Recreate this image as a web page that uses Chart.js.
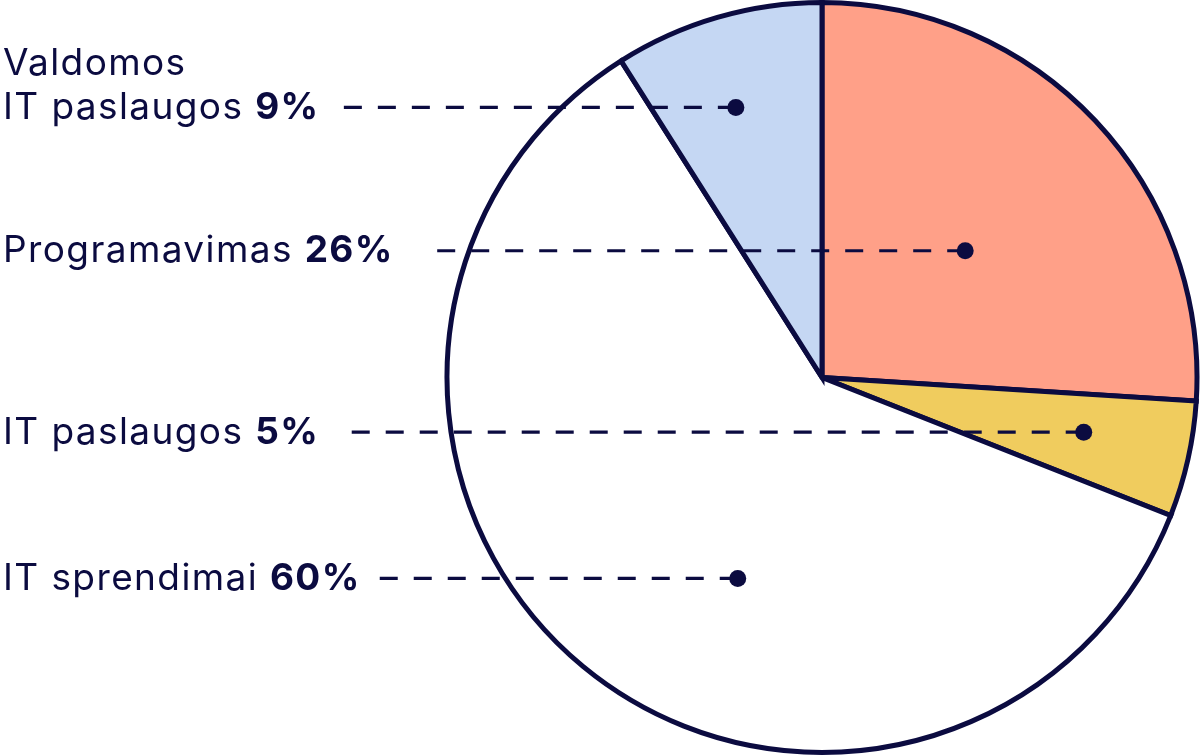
<!DOCTYPE html>
<html>
<head>
<meta charset="utf-8">
<script src="https://cdn.jsdelivr.net/npm/chart.js@4"></script>
<style>
  html, body { margin: 0; padding: 0; background: #fff; }
  #wrap { width: 1200px; height: 755px; }
</style>
</head>
<body>
<div id="wrap"><canvas id="pie" width="1200" height="755"></canvas></div>
<script>
// slices, clockwise from 12 o'clock
const categories = [['Programavimas'], ['IT paslaugos'], ['IT sprendimai'], ['Valdomos', 'IT paslaugos']];
const shares = [26, 5, 60, 9];
const sliceColors = ['#ffa088', '#f0cc5e', '#ffffff', '#c5d7f3'];

const navy = '#0b0b40';

// where the dot sits inside its slice (share of the slice angle, share of radius)
const dotAngleFrac = [0.518, 0.456, 0.422, 0.454];
const dotRadiusFrac = [0.51, 0.713, 0.581, 0.756];

const calloutPlugin = {
  id: 'callouts',
  afterDatasetsDraw(chart) {
    const ctx = chart.ctx;
    const arcs = chart.getDatasetMeta(0).data;
    const fontSize = 37;
    const lineH = 44;
    const dash = 18, gap = 16;
    ctx.save();
    ctx.letterSpacing = '1.4px';
    arcs.forEach((arc, i) => {
      const a = arc.startAngle + dotAngleFrac[i] * (arc.endAngle - arc.startAngle);
      const r = dotRadiusFrac[i] * arc.outerRadius;
      const dx = arc.x + Math.cos(a) * r;
      const dy = arc.y + Math.sin(a) * r;

      // label text, last line carries the bold percentage
      const lines = categories[i];
      const baseY = dy + 11.5;
      ctx.fillStyle = navy;
      ctx.textBaseline = 'alphabetic';
      ctx.textAlign = 'left';
      let endX = 0;
      lines.forEach((txt, k) => {
        const y = baseY - (lines.length - 1 - k) * lineH;
        ctx.font = `400 ${fontSize}px Inter, sans-serif`;
        ctx.fillText(txt, 3, y);
        if (k === lines.length - 1) {
          const w = ctx.measureText(txt + ' ').width;
          ctx.font = `700 ${fontSize}px Inter, sans-serif`;
          const pct = shares[i] + '%';
          ctx.fillText(pct, 3 + w, y);
          endX = 3 + w + ctx.measureText(pct).width;
        }
      });

      // dashed leader from the dot back to the text, ending on a whole dash
      const room = dx - (endX + 16);
      const n = Math.floor((room + gap) / (dash + gap));
      const len = n * (dash + gap) - gap;
      ctx.strokeStyle = navy;
      ctx.lineWidth = 3.2;
      ctx.setLineDash([dash, gap]);
      ctx.beginPath();
      ctx.moveTo(dx, dy);
      ctx.lineTo(dx - len, dy);
      ctx.stroke();
      ctx.setLineDash([]);

      ctx.beginPath();
      ctx.arc(dx, dy, 8.5, 0, Math.PI * 2);
      ctx.fill();
    });
    ctx.restore();
  }
};

new Chart(document.getElementById('pie'), {
  type: 'pie',
  data: {
    labels: categories.map(c => c.join(' ')),
    datasets: [{
      data: shares,
      backgroundColor: sliceColors,
      borderColor: navy,
      borderWidth: 5,
      borderJoinStyle: 'miter'
    }]
  },
  options: {
    responsive: false,
    animation: false,
    events: [],
    layout: { padding: { left: 444, right: 0, top: 0, bottom: 0 } },
    plugins: {
      legend: { display: false },
      tooltip: { enabled: false }
    }
  },
  plugins: [calloutPlugin]
});
</script>
</body>
</html>
